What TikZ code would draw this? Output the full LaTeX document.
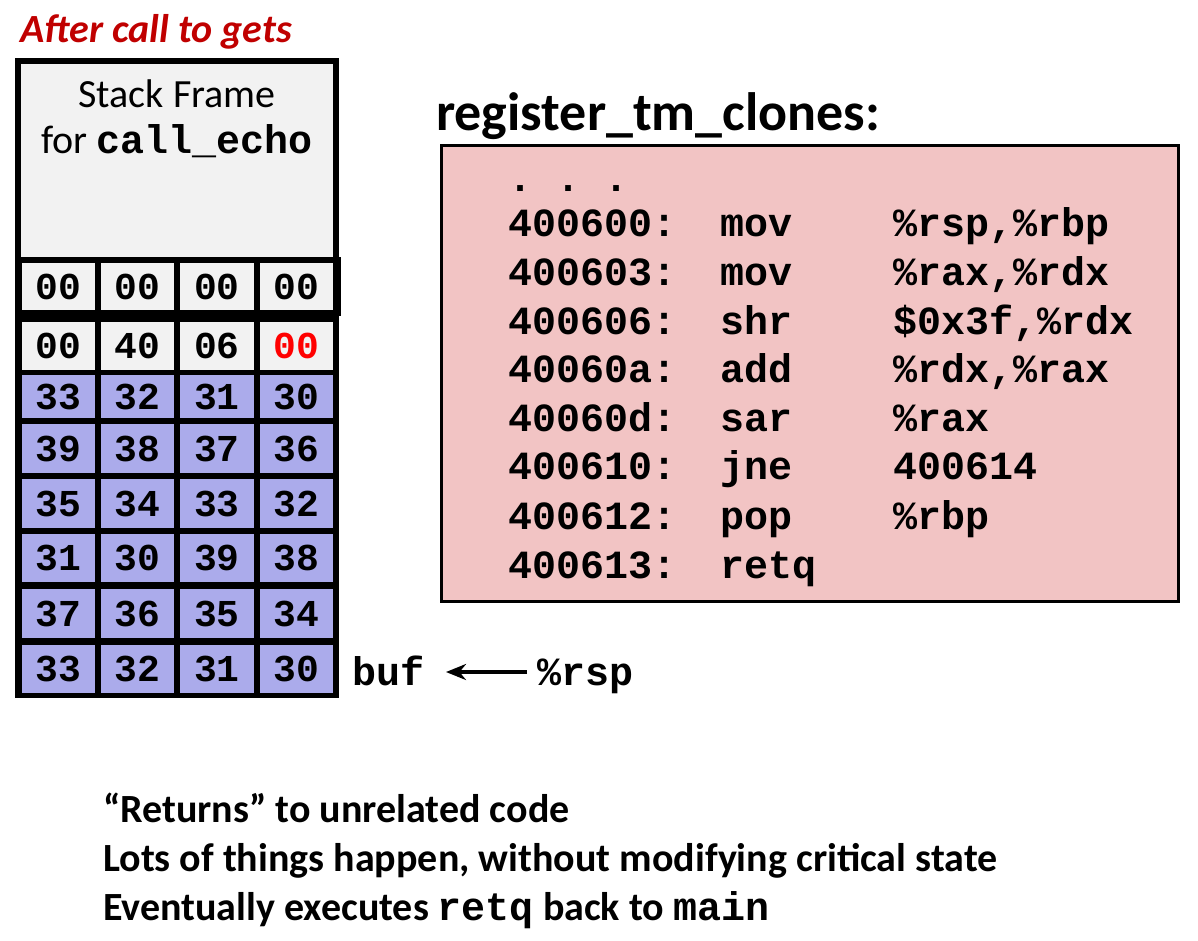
\documentclass[tikz,border=0pt]{standalone}
\usepackage{fontspec}
\setmainfont{Carlito}
\newfontfamily\cour{Liberation Mono}
\usetikzlibrary{arrows.meta}
\definecolor{cellgray}{RGB}{242,242,242}
\definecolor{cellpurple}{RGB}{171,171,235}
\definecolor{codepink}{RGB}{242,196,196}
\definecolor{titlered}{RGB}{192,0,0}
\definecolor{brightred}{RGB}{255,0,0}
\tikzset{
  cell/.style={inner sep=0pt, minimum width=73pt, font=\fontsize{38}{38}\selectfont\cour\bfseries},
  graycell/.style={cell, fill=cellgray},
  purplecell/.style={cell, fill=cellpurple},
  codetxt/.style={anchor=base west, inner sep=0pt, font=\fontsize{40}{40}\selectfont\cour\bfseries},
  btxt/.style={anchor=base west, inner sep=0pt, font=\fontsize{40}{40}\selectfont\bfseries},
}
\begin{document}
\begin{tikzpicture}[x=1pt,y=-1pt]
\useasboundingbox (0,0) rectangle (1198,940);
% title
\node[anchor=base west, inner sep=0pt, text=titlered, font=\fontsize{40}{40}\selectfont\bfseries\itshape] (title) at (20,42) {After call to gets};
% stack background
\fill[black] (15,58) rectangle (339,698);
\fill[black] (15,257) rectangle (341,316);
\node[fill=cellgray, inner sep=0pt, minimum width=312pt, minimum height=193pt] (frame) at (177,160.5) {};
\node[anchor=base, inner sep=0pt, font=\fontsize{40}{40}\selectfont] (sf1) at (177,107) {Stack Frame};
\node[anchor=base, inner sep=0pt, font=\fontsize{40}{40}\selectfont] (sf2) at (177,153) {for {\cour\bfseries call\_echo}};
% rows
\foreach \r/\y/\h/\st/\a/\b/\c/\d in {
  0/286.5/47/graycell/00/00/00/00,
  1/346/48/graycell/00/40/06/{\textcolor{brightred}{00}},
  2/396.5/43/purplecell/33/32/31/30,
  3/448.5/49/purplecell/39/38/37/36,
  4/503.5/49/purplecell/35/34/33/32,
  5/558/48/purplecell/31/30/39/38,
  6/613.5/49/purplecell/37/36/35/34,
  7/669/48/purplecell/33/32/31/30}{
  \node[\st, minimum height=\h pt] (c\r a) at (58.5,\y) {\a};
  \node[\st, minimum height=\h pt] (c\r b) at (137.5,\y) {\b};
  \node[\st, minimum height=\h pt, minimum width=74pt] (c\r c) at (217,\y) {\c};
  \node[\st, minimum height=\h pt] (c\r d) at (296.5,\y) {\d};
}
% buf / rsp
\node[codetxt] (buf) at (352,685) {buf};
\node[codetxt] (rsp) at (537,685) {\%rsp};
\coordinate (arrS) at (527,672);
\coordinate (arrE) at (446,672);
\draw[line width=4pt, -{Stealth[length=20pt,width=16pt]}] (arrS) -- (arrE);
% code title
\node[anchor=base west, inner sep=0pt, font=\fontsize{54}{54}\selectfont\bfseries] (rtc) at (436,130) {register\_tm\_clones:};
% code box
\node[draw=black, line width=3pt, fill=codepink, inner sep=0pt, minimum width=737pt, minimum height=456pt] (codebox) at (809.5,373) {};
\node[codetxt] (dots) at (508,191) {.\ .\ .};
\foreach \i/\y/\ad/\op/\ar in {
  1/236/400600:/mov/{\%rsp,\%rbp},
  2/285/400603:/mov/{\%rax,\%rdx},
  3/334/400606:/shr/{\$0x3f,\%rdx},
  4/382/40060a:/add/{\%rdx,\%rax},
  5/431/40060d:/sar/{\%rax},
  6/479/400610:/jne/{400614},
  7/529/400612:/pop/{\%rbp},
  8/578/400613:/retq/{}}{
  \node[codetxt] (ad\i) at (508,\y) {\ad};
  \node[codetxt] (op\i) at (720,\y) {\op};
  \node[codetxt] (ar\i) at (893,\y) {\ar};
}
% bottom text
\node[btxt] (l1) at (103,822) {“Returns” to unrelated code};
\node[btxt] (l2) at (103,871) {Lots of things happen, without modifying critical state};
\node[btxt] (l3) at (103,920) {Eventually executes {\cour\bfseries retq} back to {\cour\bfseries main}};
\end{tikzpicture}
\end{document}
